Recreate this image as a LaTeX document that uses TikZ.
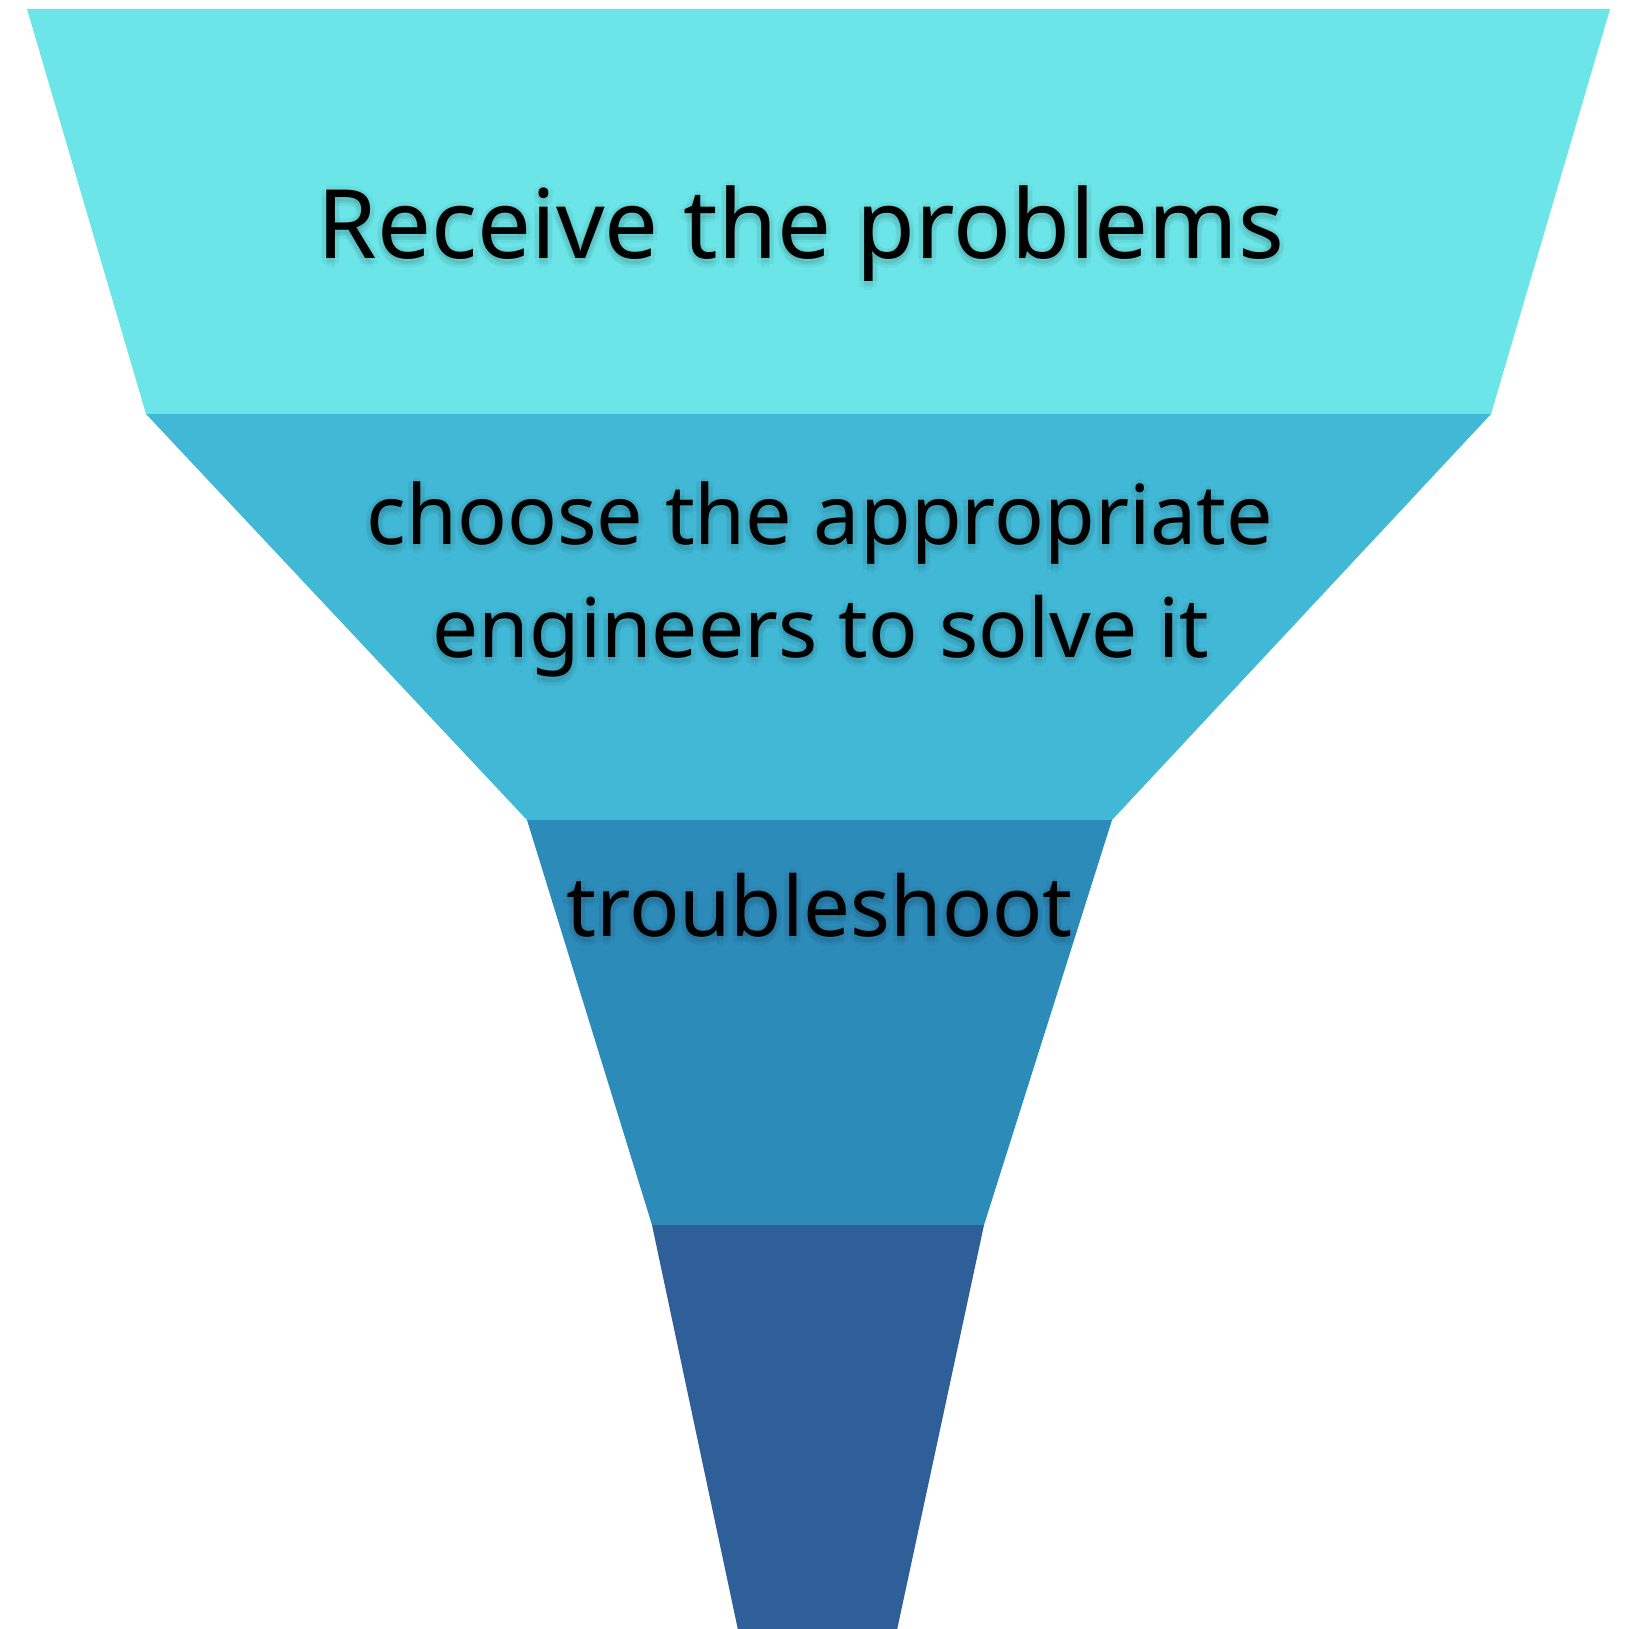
\documentclass[tikz,border=0pt]{standalone}
\usepackage{fontspec}
\setmainfont{Noto Sans}
\definecolor{bandA}{HTML}{6CE5E8}
\definecolor{bandB}{HTML}{41B8D5}
\definecolor{bandC}{HTML}{2D8BBA}
\definecolor{bandD}{HTML}{2F5F98}
\newcommand{\shadowtext}[4]{% name, pos, size, text
  \foreach \dx/\dy in {-5/0,5/0,0/-4,0/9,-4/6,4/6,0/4}{
    \node[anchor=base, text=black, opacity=0.04, font=\fontsize{#3}{#3}\selectfont, inner sep=0pt] at ([shift={(\dx,\dy)}]#2) {#4};
  }
  \node[anchor=base, text=black, font=\fontsize{#3}{#3}\selectfont, inner sep=0pt] (#1) at (#2) {#4};
}
\begin{document}
\begin{tikzpicture}[x=1pt,y=-1pt]
\useasboundingbox (0,0) rectangle (1630,1629);
\fill[white] (0,0) rectangle (1630,1629);
\fill[bandA] (27,9) -- (1610,9) -- (1491,414) -- (146,414) -- cycle;
\fill[bandB] (146,414) -- (1491,414) -- (1112,820) -- (527,820) -- cycle;
\fill[bandC] (527,820) -- (1112,820) -- (984,1225) -- (652,1225) -- cycle;
\fill[bandD] (652,1225) -- (984,1225) -- (897,1630) -- (738,1630) -- cycle;
\shadowtext{t1}{801,259}{95.8}{Receive the problems}
\shadowtext{t2a}{820,544}{82.6}{choose the appropriate}
\shadowtext{t2b}{821,657}{82}{engineers to solve it}
\shadowtext{t3}{819.5,936}{83.3}{troubleshoot}
\end{tikzpicture}
\end{document}
